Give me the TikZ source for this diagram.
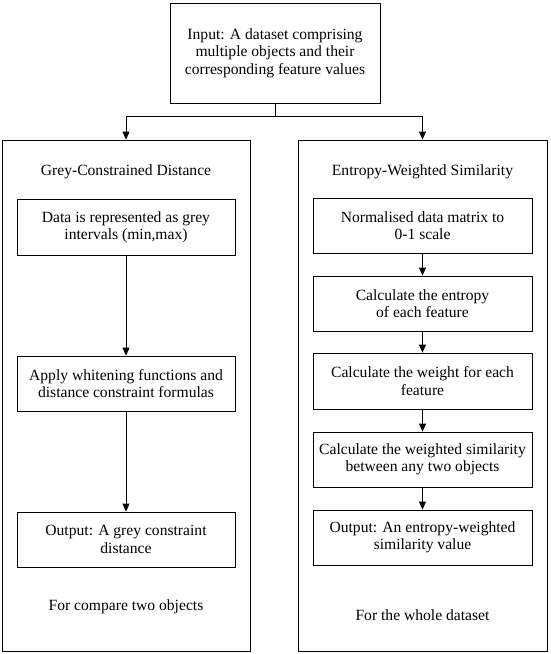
\documentclass[tikz,border=0pt]{standalone}
\usepackage{fontspec}
\setmainfont{Liberation Serif}
\usetikzlibrary{arrows.meta}
\begin{document}
\begin{tikzpicture}[x=1pt,y=-1pt,
  every node/.style={font=\fontsize{15.6}{17.5}\selectfont, inner sep=0pt},
  box/.style={draw, line width=0.8pt, align=center},
  arr/.style={line width=0.8pt, -{Triangle[width=7pt,length=8pt]}},
  ln/.style={line width=0.8pt}]
\useasboundingbox (0,0) rectangle (550,654);
% top
\node[box, minimum width=210pt, minimum height=100pt] (top) at (275,53)
  {Input: A dataset comprising\\multiple objects and their\\corresponding feature values};
% big boxes
\node[box, minimum width=248pt, minimum height=511pt] (L) at (126,395.5) {};
\node[box, minimum width=249pt, minimum height=511pt] (R) at (422.5,395.5) {};
\coordinate (j) at (275,116);
\coordinate (jL) at (126,116);
\coordinate (jR) at (422.5,116);
\draw[ln] (top.south) -- (j);
\draw[ln] (jL) -- (jR);
\draw[arr] (jL) -- (L.north);
\draw[arr] (jR) -- (R.north);
% left column
\node (Lt) at (126,172) {Grey-Constrained Distance};
\node[box, minimum width=218pt, minimum height=56pt] (L1) at (126,227)
  {Data is represented as grey\\intervals (min,max)};
\node[box, minimum width=218pt, minimum height=55pt] (L2) at (126,383.5)
  {Apply whitening functions and\\distance constraint formulas};
\node[box, minimum width=218pt, minimum height=55pt] (L3) at (126,539.5)
  {Output: A grey constraint\\distance};
\node (Lb) at (126,607) {For compare two objects};
\draw[arr] (L1) -- (L2);
\draw[arr] (L2) -- (L3);
% right column
\node (Rt) at (422.5,172) {Entropy-Weighted Similarity};
\node[box, minimum width=219pt, minimum height=55pt] (R1) at (422.5,225.5)
  {Normalised data matrix to\\0-1 scale};
\node[box, minimum width=219pt, minimum height=55pt] (R2) at (422.5,303.5)
  {Calculate the entropy\\of each feature};
\node[box, minimum width=219pt, minimum height=56pt] (R3) at (422.5,381)
  {Calculate the weight for each\\feature};
\node[box, minimum width=219pt, minimum height=55pt] (R4) at (422.5,459.5)
  {Calculate the weighted similarity\\between any two objects};
\node[box, minimum width=219pt, minimum height=55pt] (R5) at (422.5,537.5)
  {Output: An entropy-weighted\\similarity value};
\node (Rb) at (422.5,615) {For the whole dataset};
\draw[arr] (R1) -- (R2);
\draw[arr] (R2) -- (R3);
\draw[arr] (R3) -- (R4);
\draw[arr] (R4) -- (R5);
\end{tikzpicture}
\end{document}
